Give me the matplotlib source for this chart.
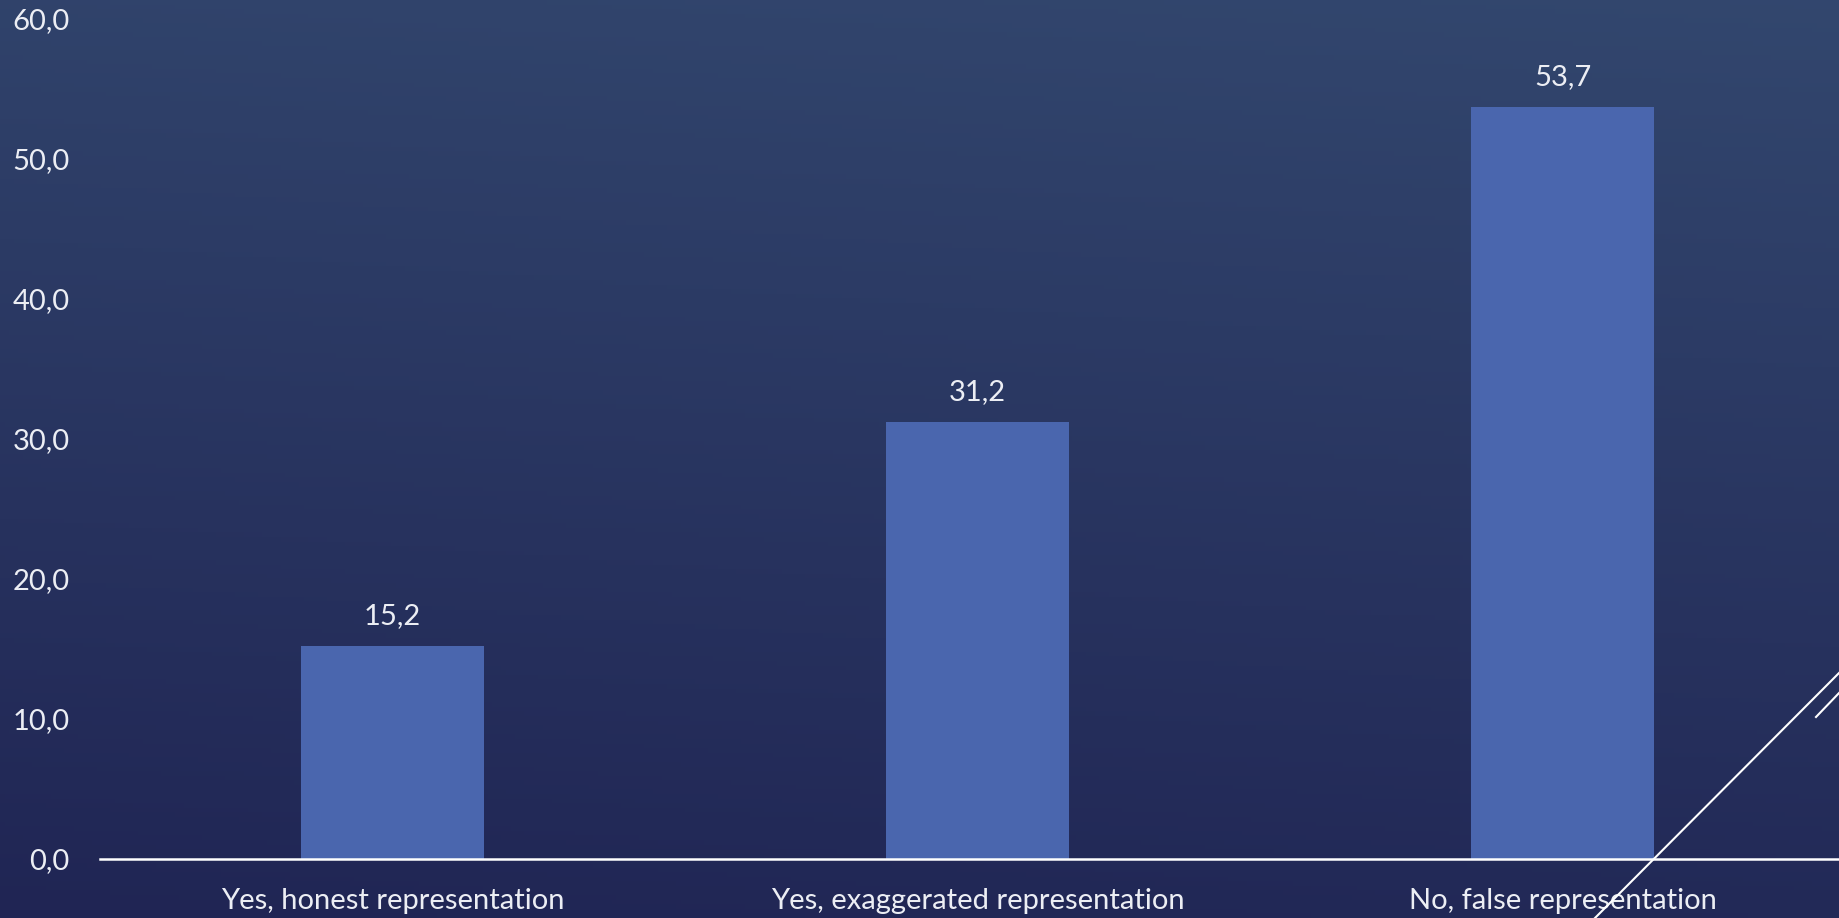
import numpy as np
import matplotlib.pyplot as plt
from matplotlib.lines import Line2D
from matplotlib.colors import to_rgb

categories = ['Yes, honest representation', 'Yes, exaggerated representation', 'No, false representation']
values = [15.2, 31.2, 53.7]
yticks = [0, 10, 20, 30, 40, 50, 60]

plt.rcParams['font.family'] = ['Lato', 'DejaVu Sans']
txt = '#eceef4'

fig = plt.figure(figsize=(18.4, 9.18), dpi=100)

# background gradient (lighter at top right)
bg = fig.add_axes([0, 0, 1, 1], zorder=-1)
ny, nx = 200, 400
yy, xx = np.mgrid[0:1:ny * 1j, 0:1:nx * 1j]
t = np.clip(0.85 * yy + 0.12 * xx, 0, 1)
top = np.array(to_rgb('#33486f'))
bot = np.array(to_rgb('#202554'))
img = bot + (top - bot) * t[..., None]
bg.imshow(img, extent=[0, 1, 0, 1], aspect='auto', origin='lower')
bg.axis('off')

# axes (extends a little past the right edge, as in the slide)
left = 100 / 1840
width = 1755 / 1840
bottom = 1 - 859 / 918
height = 840 / 918
ax = fig.add_axes([left, bottom, width, height])
ax.set_facecolor('none')

x = np.arange(len(categories))
bars = ax.bar(x, values, width=0.312, color='#4a66ae', zorder=2)
ax.set_xlim(-0.5, len(categories) - 0.5)
ax.set_ylim(0, 60)

for xi, v in zip(x, values):
    ax.annotate(f'{v:.1f}'.replace('.', ','), (xi, v), xytext=(0, 12), textcoords='offset points',
                ha='center', va='bottom', color=txt, fontsize=21)

ax.set_xticks(x)
ax.set_xticklabels(categories, color=txt, fontsize=21)
ax.set_yticks(yticks)
ax.set_yticklabels([f'{v:.1f}'.replace('.', ',') for v in yticks], color=txt, fontsize=21)
ax.tick_params(axis='both', length=0)
ax.tick_params(axis='y', pad=22)
ax.tick_params(axis='x', pad=21)
for s in ['top', 'right', 'left']:
    ax.spines[s].set_visible(False)
ax.spines['bottom'].set_color('white')
ax.spines['bottom'].set_linewidth(1.8)
ax.spines['bottom'].set_zorder(3)

# decorative diagonal lines
def fpt(px, py):
    return px / 1840, 1 - py / 918

for (x0, y0), (x1, y1) in [((1595, 918), (1840, 672)), ((1816, 717), (1840, 692))]:
    a, b = fpt(x0, y0)
    c, d = fpt(x1, y1)
    fig.add_artist(Line2D([a, c], [b, d], color='white', lw=1.5, zorder=5))

fig.savefig('out.png', dpi=100)
